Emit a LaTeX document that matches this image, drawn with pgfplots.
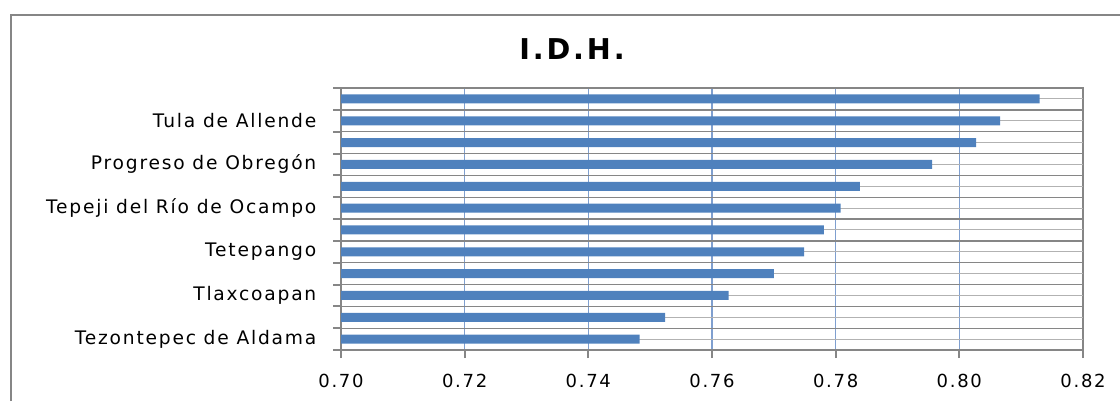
\documentclass[border=0pt]{standalone}
\usepackage{pgfplots}
\pgfplotsset{compat=1.18}
\usepackage{fontspec}
\setmainfont{DejaVu Sans}[LetterSpace=9.5]
\newfontfamily\titlefont{DejaVu Sans}[LetterSpace=10]
\definecolor{barblue}{RGB}{79,129,189}
\definecolor{vgrid}{RGB}{127,159,207}
\definecolor{hgrid}{RGB}{134,134,134}
\definecolor{cgrid}{RGB}{178,178,178}
\pgfplotstableread{
y v
0 0.7483
1 0.7524
2 0.7627
3 0.7700
4 0.7749
5 0.7781
6 0.7808
7 0.7839
8 0.7956
9 0.8027
10 0.8066
11 0.8130
}\idh
\begin{document}
\begin{tikzpicture}[x=0.75pt,y=0.75pt]
\useasboundingbox (0,0) rectangle (1120,401);
\draw[hgrid, line width=2pt] (11,0) -- (11,386) -- (1120,386);
\begin{axis}[
  at={(255.75pt,38.25pt)}, anchor=south west,
  scale only axis, width=556.5pt, height=196.5pt,
  xbar, bar width=6.75pt,
  xmin=0.70, xmax=0.82, ymin=-0.5, ymax=11.5,
  xtick={0.70,0.72,0.74,0.76,0.78,0.80,0.82},
  /pgf/number format/fixed, /pgf/number format/fixed zerofill, /pgf/number format/precision=2,
  /pgf/number format/assume math mode=true,
  xticklabel style={font=\fontsize{13.5}{16}\selectfont, yshift=-8.5pt},
  ytick={-0.5,0.5,...,11.5},
  yticklabels={},
  extra y ticks={0,1,2,3,4,5,6,7,8,9,10,11},
  extra y tick labels={Tezontepec de Aldama,,Tlaxcoapan,,Tetepango,,Tepeji del Río de Ocampo,,Progreso de Obregón,,Tula de Allende,},
  extra y tick style={major tick length=0pt, grid=major, major grid style={draw=cgrid, line width=0.75pt},
     yticklabel style={font=\fontsize{14}{16}\selectfont, xshift=-15pt}},
  xmajorgrids, ymajorgrids,
  major grid style={draw=hgrid, line width=1pt},
  x grid style={draw=vgrid, line width=1.2pt},
  tick align=outside, tick pos=left,
  major tick length=6pt,
  tick style={draw=hgrid, line width=1.5pt},
  axis line style={draw=hgrid, line width=1.5pt},
]
\addplot[fill=barblue, draw=none] table[x=v, y=y] {\idh};
\end{axis}
\node[font=\titlefont\bfseries\fontsize{21.5}{24}\selectfont] at (572,352) {I.D.H.};
\end{tikzpicture}
\end{document}
